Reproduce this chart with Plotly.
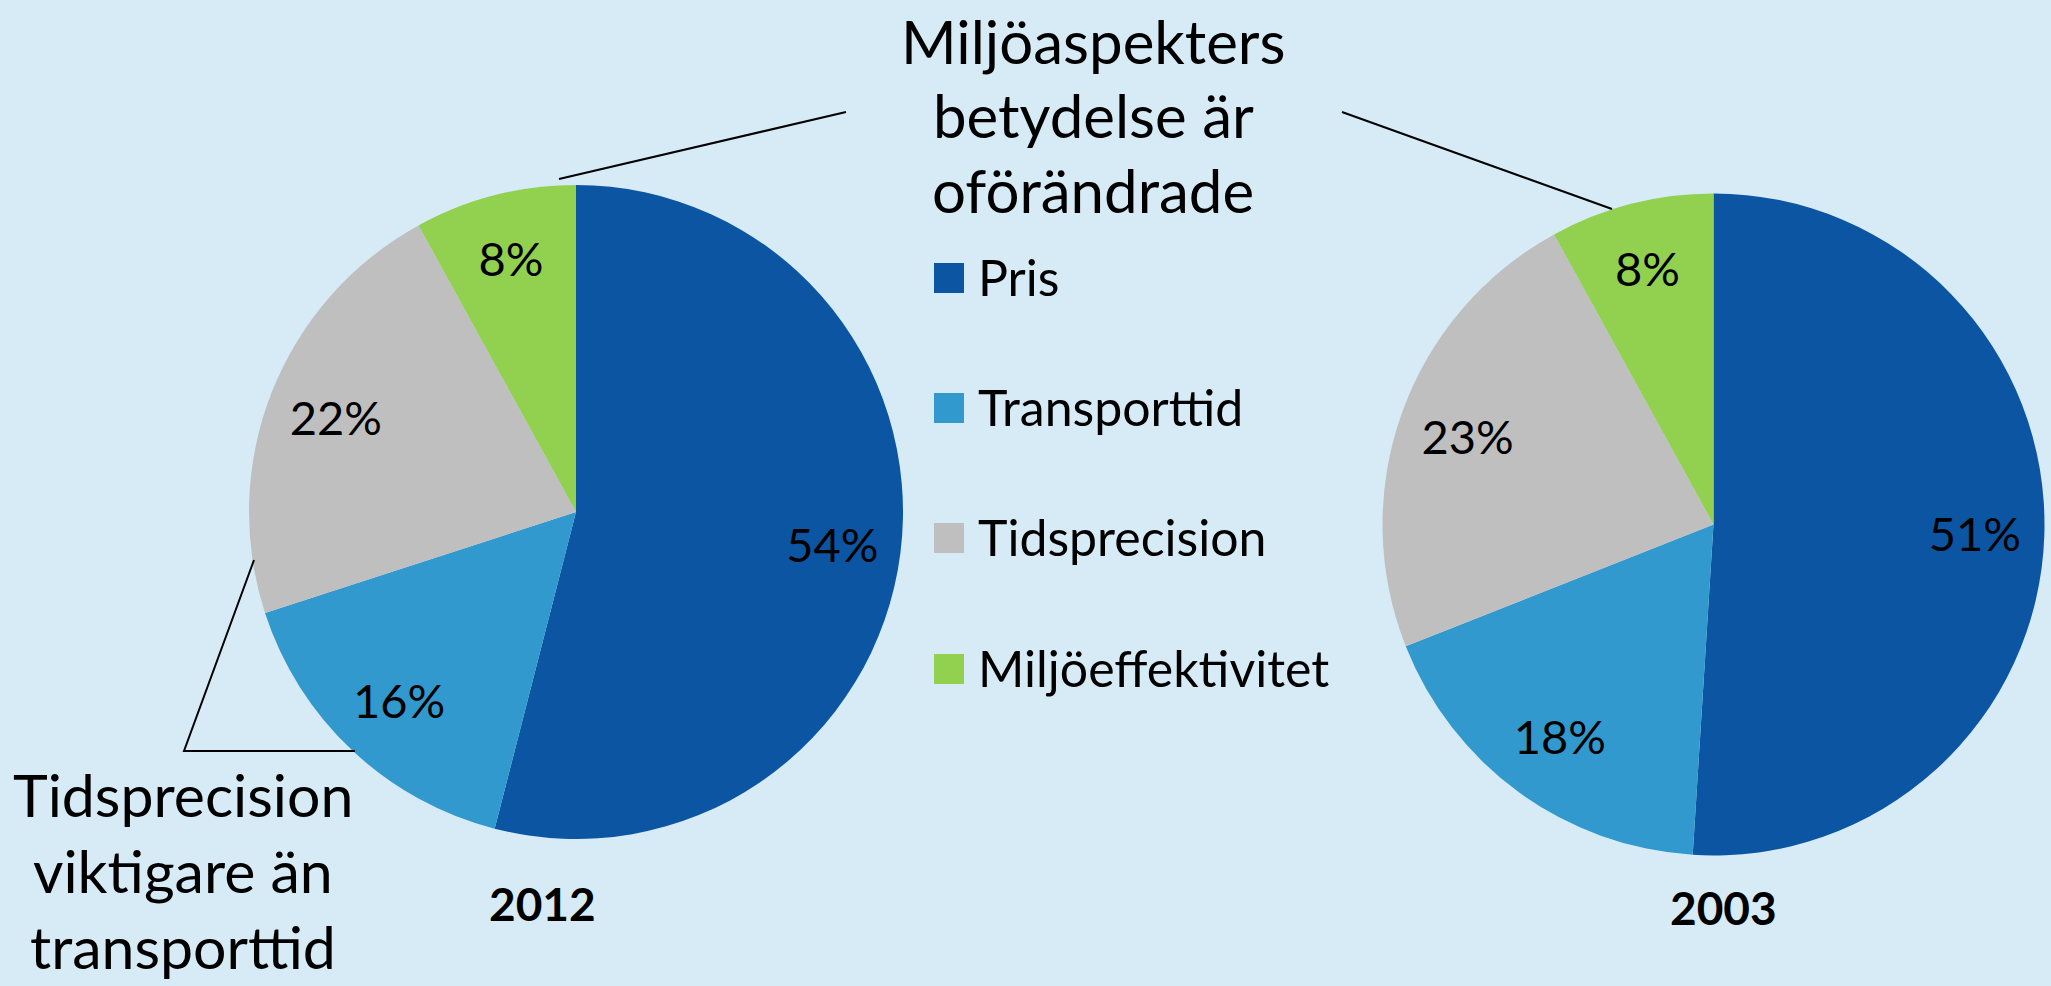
import plotly.graph_objects as go

# ---- data ----
categories = ["Pris", "Transporttid", "Tidsprecision", "Miljöeffektivitet"]
values_2012 = [54, 16, 22, 8]
values_2003 = [51, 18, 23, 8]
years = ["2012", "2003"]
colors = ["#0B55A3", "#3199CD", "#BFBFBF", "#92D050"]

note_top = ["Miljöaspekters", "betydelse är", "oförändrade"]
note_left = ["Tidsprecision", "viktigare än", "transporttid"]

W, H = 2051, 986
BG = "#D6EBF6"
FONT = "Lato"


def px(x):
    return x / W


def py(y):
    return 1 - y / H


fig = go.Figure()

pie_boxes = [
    (249, 903, 185, 839),      # 2012 (left, right, top, bottom in px)
    (1382.5, 2044.5, 193.5, 855.5),  # 2003
]
for vals, (x0, x1, y0, y1) in zip([values_2012, values_2003], pie_boxes):
    dom = dict(x=[px(x0), px(x1)], y=[py(y1), py(y0)])
    # filled slices
    fig.add_trace(go.Pie(
        labels=categories, values=vals, sort=False, direction="clockwise",
        rotation=0, marker=dict(colors=colors, line=dict(width=0)),
        textinfo="none", hoverinfo="label+percent", showlegend=False,
        domain=dom,
    ))
    # label ring (transparent) so the percentages sit near the rim
    fig.add_trace(go.Pie(
        labels=categories, values=vals, sort=False, direction="clockwise",
        rotation=0, hole=0.58,
        marker=dict(colors=["rgba(0,0,0,0)"] * len(vals), line=dict(width=0)),
        texttemplate="%{value}%", textposition="inside",
        insidetextorientation="horizontal",
        textfont=dict(family=FONT, size=47, color="black"),
        hoverinfo="skip", showlegend=False, domain=dom,
    ))

annotations = []
shapes = []

# legend (manual, large squares)
leg_y = [278, 408, 538, 669]
for cat, col, yc in zip(categories, colors, leg_y):
    shapes.append(dict(type="rect", xref="paper", yref="paper",
                       x0=px(934), x1=px(964), y0=py(yc + 15), y1=py(yc - 15),
                       fillcolor=col, line=dict(width=0)))
    annotations.append(dict(text=cat, xref="paper", yref="paper",
                            x=px(976), y=py(yc - 1), xanchor="left", yanchor="middle",
                            showarrow=False, font=dict(family=FONT, size=50, color="black")))

# year labels
for yr, (xc, yc) in zip(years, [(542, 903), (1723, 907)]):
    annotations.append(dict(text="<b>" + yr + "</b>", xref="paper", yref="paper",
                            x=px(xc), y=py(yc), xanchor="center", yanchor="middle",
                            showarrow=False, font=dict(family=FONT, size=46, color="black")))

# callout texts (one annotation per line)
for line, yc in zip(note_top, [41, 115, 190]):
    annotations.append(dict(text=line, xref="paper", yref="paper",
                            x=px(1093), y=py(yc), xanchor="center", yanchor="middle",
                            showarrow=False, font=dict(family=FONT, size=60, color="black")))
for line, yc in zip(note_left, [794, 870, 946]):
    annotations.append(dict(text=line, xref="paper", yref="paper",
                            x=px(183), y=py(yc), xanchor="center", yanchor="middle",
                            showarrow=False, font=dict(family=FONT, size=59, color="black")))

# connector lines
line_style = dict(color="black", width=2)
shapes.append(dict(type="line", xref="paper", yref="paper",
                   x0=px(559), y0=py(179), x1=px(846), y1=py(112), line=line_style))
shapes.append(dict(type="line", xref="paper", yref="paper",
                   x0=px(1342), y0=py(112), x1=px(1612), y1=py(209), line=line_style))
shapes.append(dict(type="path", xref="paper", yref="paper",
                   path=f"M {px(254)},{py(560)} L {px(184)},{py(751)} L {px(355)},{py(751)}",
                   line=line_style))

fig.update_layout(
    width=W, height=H,
    margin=dict(l=0, r=0, t=0, b=0),
    paper_bgcolor=BG, plot_bgcolor=BG,
    annotations=annotations, shapes=shapes,
    showlegend=False,
)

fig.write_html("out.html", config={"displayModeBar": False},
               post_script="document.body.style.margin='0';document.body.style.overflow='hidden';")
